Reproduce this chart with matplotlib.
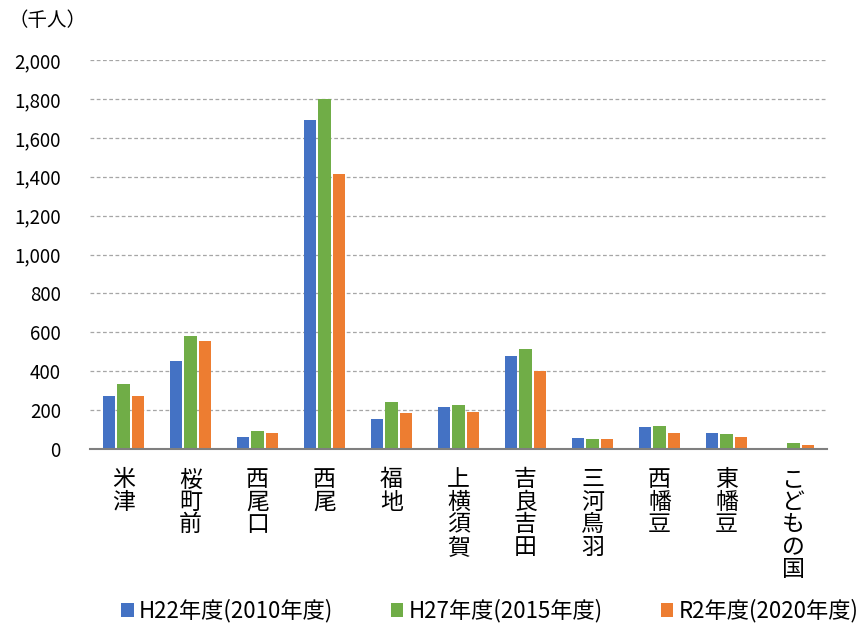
import matplotlib
matplotlib.use("Agg")
import matplotlib.pyplot as plt
import numpy as np

plt.rcParams['font.family'] = ['Noto Sans CJK JP', 'DejaVu Sans']

# stations and ridership (thousand people)
stations = ["米津", "桜町前", "西尾口", "西尾", "福地", "上横須賀", "吉良吉田",
            "三河鳥羽", "西幡豆", "東幡豆", "こどもの国"]
h22 = [272, 452, 60, 1692, 154, 214, 478, 57, 112, 82, 0]
h27 = [334, 581, 94, 1800, 242, 226, 514, 53, 117, 76, 29]
r2 = [274, 554, 82, 1415, 185, 189, 401, 51, 82, 60, 21]
series_labels = ["H22年度(2010年度)", "H27年度(2015年度)", "R2年度(2020年度)"]
colors = ["#4472C4", "#70AD47", "#ED7D31"]

fig = plt.figure(figsize=(8.58, 6.27), dpi=100)
ax = fig.add_axes([90 / 858, 1 - 449 / 627, 737 / 858, 389 / 627])

x = np.arange(len(stations))
w = 0.18
step = 0.22
for i, (vals, lab, c) in enumerate(zip([h22, h27, r2], series_labels, colors)):
    ax.bar(x + (i - 1) * step, vals, width=w, color=c, label=lab, zorder=3)

ax.set_xlim(-0.5, len(stations) - 0.5)
ax.set_ylim(0, 2000)
ax.set_yticks(range(0, 2001, 200))
ax.set_yticklabels([f"{v:,}" for v in range(0, 2001, 200)], fontsize=13.5)
ax.yaxis.grid(True, linestyle=(0, (3, 2)), color="#A6A6A6", linewidth=0.9, zorder=0)
ax.tick_params(axis="y", length=0, pad=21)
ax.tick_params(axis="x", length=0, pad=14)

ax.set_xticks(x)
ax.set_xticklabels(["\n".join(s) for s in stations], fontsize=16.5,
                   linespacing=0.97, va="top")

for s in ["top", "right", "left"]:
    ax.spines[s].set_visible(False)
ax.spines["bottom"].set_color("#7F7F7F")
ax.spines["bottom"].set_linewidth(1.5)
ax.spines["bottom"].set_zorder(4)

fig.text(8 / 858, 1 - 20 / 627, "（千人）", fontsize=14, va="center", ha="left")

fig.legend(loc="center", bbox_to_anchor=(490 / 858, 1 - 611 / 627), ncol=3,
           frameon=False, fontsize=16, handlelength=0.55, handleheight=0.55,
           handletextpad=0.25, columnspacing=2.6)

fig.savefig("out.png", dpi=100)
